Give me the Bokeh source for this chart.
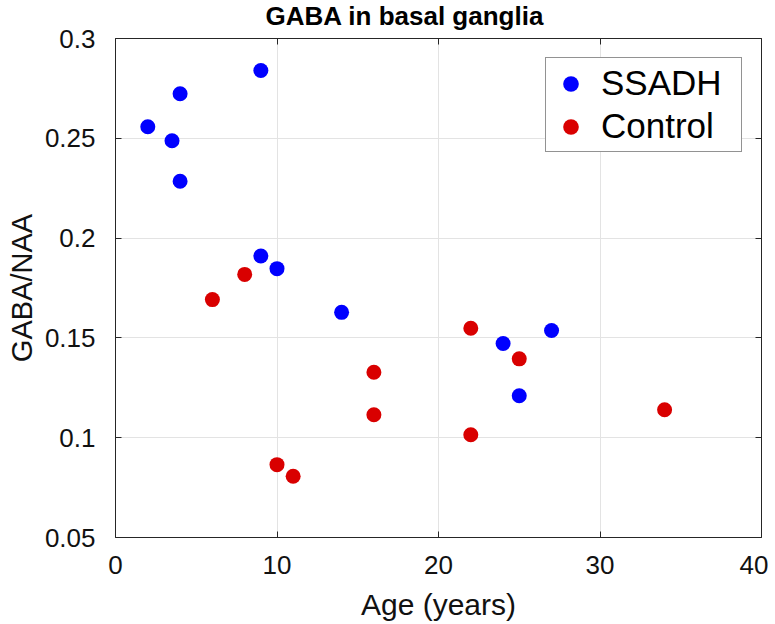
from bokeh.plotting import figure
from bokeh.models import (ColumnDataSource, LinearAxis, FixedTicker, Range1d, Legend, LegendItem)
from bokeh.embed import file_html
from bokeh.resources import INLINE

# ---- data ----
ssadh_age = [2, 3.5, 4, 4, 9, 9, 10, 14, 24, 25, 27]
ssadh_ratio = [0.2558, 0.2488, 0.2723, 0.2285, 0.284, 0.191, 0.1847, 0.1628, 0.1472, 0.121, 0.1537]
control_age = [6, 8, 10, 11, 16, 16, 22, 22, 25, 34]
control_ratio = [0.1692, 0.1818, 0.0865, 0.0807, 0.1328, 0.1115, 0.1548, 0.1015, 0.1395, 0.114]

x_ticks = [0, 10, 20, 30, 40]
x_tick_labels = ["0", "10", "20", "30", "40"]
y_ticks = [0.05, 0.1, 0.15, 0.2, 0.25, 0.3]
y_tick_labels = ["0.05", "0.1", "0.15", "0.2", "0.25", "0.3"]

title_text = "GABA in basal ganglia"
x_label = "Age (years)"
y_label = "GABA/NAA"
series_names = ["SSADH", "Control"]
series_colors = ["#0000ff", "#d90000"]

FONT = "Liberation Sans"
AXIS_COLOR = "#262626"

p = figure(width=768, height=624, output_backend="svg", toolbar_location=None,
           x_range=Range1d(0, 40), y_range=Range1d(0.05, 0.3),
           min_border_left=115, min_border_right=7, min_border_top=37, min_border_bottom=87)

p.title.text = title_text
p.title.text_font = FONT
p.title.text_font_size = "26px"
p.title.text_font_style = "bold"
p.title.text_color = "black"
p.title.align = "left"
p.title.offset = 150
p.title.standoff = 0
p.title.vertical_align = "top"

src_s = ColumnDataSource(dict(x=ssadh_age, y=ssadh_ratio))
src_c = ColumnDataSource(dict(x=control_age, y=control_ratio))
r_s = p.scatter("x", "y", source=src_s, size=15, fill_color=series_colors[0], line_color=series_colors[0], line_width=0)
r_c = p.scatter("x", "y", source=src_c, size=15, fill_color=series_colors[1], line_color=series_colors[1], line_width=0)

# main axes
xa = p.xaxis[0]
ya = p.yaxis[0]
xa.ticker = FixedTicker(ticks=x_ticks)
ya.ticker = FixedTicker(ticks=y_ticks)
xa.major_label_overrides = {t: l for t, l in zip(x_ticks, x_tick_labels)}
ya.major_label_overrides = {t: l for t, l in zip(y_ticks, y_tick_labels)}
xa.axis_label = x_label
ya.axis_label = y_label
for ax in (xa, ya):
    ax.axis_line_color = AXIS_COLOR
    ax.axis_line_width = 1
    ax.major_tick_line_color = AXIS_COLOR
    ax.major_tick_in = 6
    ax.major_tick_out = 0
    ax.minor_tick_line_color = None
    ax.major_label_text_font = FONT
    ax.major_label_text_font_size = "26px"
    ax.major_label_text_color = "#111111"
    ax.axis_label_text_font = FONT
    ax.axis_label_text_font_style = "normal"
    ax.axis_label_text_color = "#111111"
xa.major_label_standoff = 18
xa.axis_label_standoff = 11
xa.axis_label_text_font_size = "30px"
ya.major_label_standoff = 20
ya.axis_label_standoff = 4
ya.axis_label_text_font_size = "29px"

# top and right box axes with inward ticks
top = LinearAxis(ticker=FixedTicker(ticks=x_ticks))
right = LinearAxis(ticker=FixedTicker(ticks=y_ticks))
for ax in (top, right):
    ax.axis_line_color = AXIS_COLOR
    ax.major_tick_line_color = AXIS_COLOR
    ax.major_tick_in = 6
    ax.major_tick_out = 0
    ax.minor_tick_line_color = None
    ax.major_label_text_font_size = "0px"
    ax.major_label_text_color = None
    ax.major_label_standoff = 0
# small blank spacer label so the title sits a little higher
top.axis_label = " "
top.axis_label_text_font_size = "3px"
top.axis_label_standoff = 0
p.add_layout(top, "above")
p.add_layout(right, "right")

p.xgrid.ticker = FixedTicker(ticks=x_ticks)
p.ygrid.ticker = FixedTicker(ticks=y_ticks)
p.grid.grid_line_color = "#e3e3e3"
p.grid.grid_line_width = 1
p.outline_line_color = None
p.background_fill_color = "white"
p.border_fill_color = "white"

legend = Legend(items=[LegendItem(label=series_names[0], renderers=[r_s]),
                       LegendItem(label=series_names[1], renderers=[r_c])],
                location="top_right")
legend.margin = 19
legend.padding = 5
legend.spacing = 3
legend.glyph_width = 39
legend.glyph_height = 39
legend.label_standoff = 11
legend.label_width = 135
legend.label_text_font = FONT
legend.label_text_font_size = "35px"
legend.label_text_color = "black"
legend.border_line_color = "#262626"
legend.border_line_width = 1
legend.background_fill_color = "white"
legend.background_fill_alpha = 1
p.add_layout(legend, "center")

open("out.html", "w").write(file_html(p, INLINE))
